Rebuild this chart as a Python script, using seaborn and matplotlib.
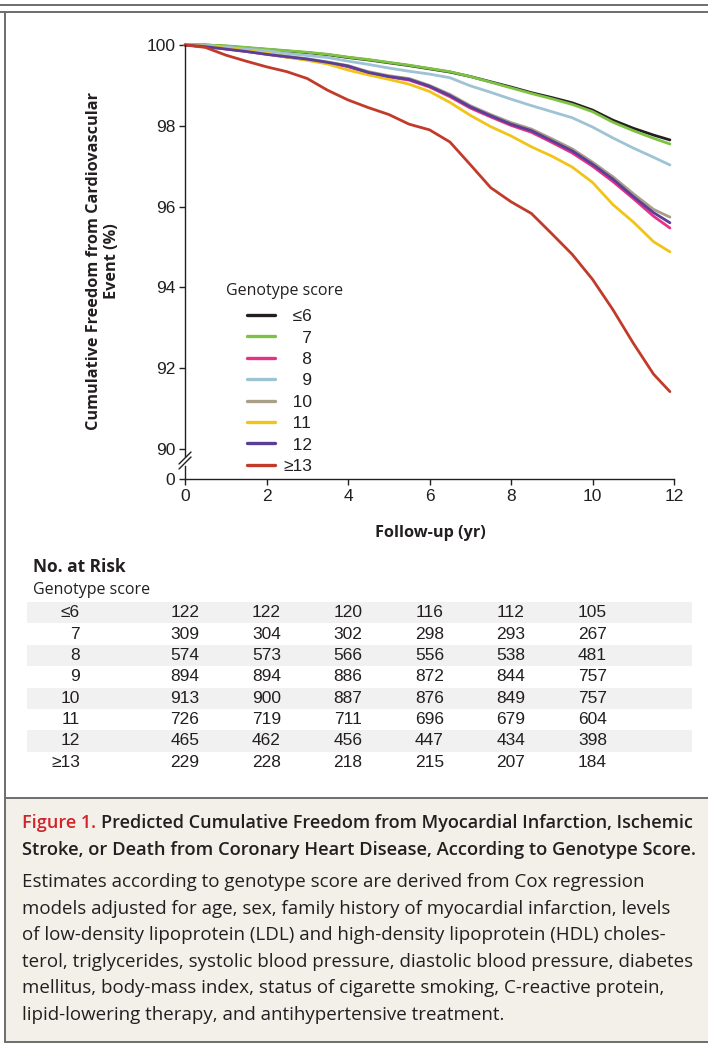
import matplotlib
matplotlib.use("Agg")
import matplotlib.pyplot as plt
from matplotlib.lines import Line2D
from matplotlib.patches import Rectangle
import pandas as pd
import seaborn as sns

# follow-up years at which the curves were read
years = [0, 0.5, 1, 1.5, 2, 2.5, 3, 3.5, 4, 4.5, 5, 5.5, 6, 6.5, 7, 7.5, 8, 8.5,
         9, 9.5, 10, 10.5, 11, 11.5, 11.9]

# cumulative freedom from cardiovascular event (%)
surv_le6 = [100, 100, 99.97, 99.93, 99.89, 99.85, 99.81, 99.76, 99.69, 99.63, 99.56, 99.49, 99.41,
            99.33, 99.22, 99.09, 98.96, 98.82, 98.70, 98.57, 98.39, 98.14, 97.94, 97.77, 97.65]
surv_7 = [100, 100, 99.98, 99.94, 99.90, 99.86, 99.82, 99.77, 99.70, 99.64, 99.57, 99.50, 99.42,
          99.34, 99.22, 99.08, 98.94, 98.80, 98.67, 98.53, 98.35, 98.09, 97.88, 97.69, 97.55]
surv_8 = [100, 99.96, 99.90, 99.84, 99.77, 99.70, 99.64, 99.56, 99.46, 99.31, 99.21, 99.13, 98.96,
          98.72, 98.44, 98.22, 98.01, 97.84, 97.59, 97.33, 97.00, 96.62, 96.20, 95.76, 95.47]
surv_9 = [100, 99.99, 99.95, 99.90, 99.86, 99.79, 99.74, 99.69, 99.60, 99.52, 99.43, 99.35, 99.28,
          99.19, 98.99, 98.83, 98.66, 98.50, 98.35, 98.20, 97.97, 97.70, 97.45, 97.22, 97.03]
surv_10 = [100, 99.97, 99.91, 99.85, 99.78, 99.72, 99.66, 99.58, 99.49, 99.34, 99.24, 99.17, 99.00,
           98.78, 98.50, 98.28, 98.08, 97.92, 97.68, 97.43, 97.10, 96.74, 96.32, 95.93, 95.74]
surv_11 = [100, 99.97, 99.92, 99.86, 99.80, 99.70, 99.62, 99.53, 99.38, 99.26, 99.15, 99.03, 98.85,
           98.58, 98.26, 97.98, 97.75, 97.48, 97.25, 96.98, 96.60, 96.05, 95.62, 95.13, 94.88]
surv_12 = [100, 99.96, 99.90, 99.84, 99.77, 99.71, 99.65, 99.57, 99.48, 99.32, 99.22, 99.15, 98.98,
           98.75, 98.47, 98.25, 98.04, 97.88, 97.63, 97.38, 97.05, 96.68, 96.25, 95.85, 95.60]
surv_ge13 = [100, 99.94, 99.75, 99.60, 99.46, 99.34, 99.17, 98.88, 98.64, 98.45, 98.28, 98.04, 97.90,
             97.60, 97.04, 96.47, 96.12, 95.83, 95.33, 94.82, 94.20, 93.45, 92.62, 91.85, 91.42]

groups = ["≤6", "7", "8", "9", "10", "11", "12", "≥13"]
colors = ["#231f20", "#7dc242", "#e8308a", "#9dc3d5", "#a89f88", "#f0c419", "#5a3f98", "#c23b2a"]

# number at risk table
risk_years = [0, 2, 4, 6, 8, 10]
risk_le6 = [122, 122, 120, 116, 112, 105]
risk_7 = [309, 304, 302, 298, 293, 267]
risk_8 = [574, 573, 566, 556, 538, 481]
risk_9 = [894, 894, 886, 872, 844, 757]
risk_10 = [913, 900, 887, 876, 849, 757]
risk_11 = [726, 719, 711, 696, 679, 604]
risk_12 = [465, 462, 456, 447, 434, 398]
risk_ge13 = [229, 228, 218, 215, 207, 184]

surv_all = [surv_le6, surv_7, surv_8, surv_9, surv_10, surv_11, surv_12, surv_ge13]
risk_all = [risk_le6, risk_7, risk_8, risk_9, risk_10, risk_11, risk_12, risk_ge13]

df = pd.concat([pd.DataFrame({"Year": years, "Surv": s, "Score": g})
                for g, s in zip(groups, surv_all)], ignore_index=True)

sns.set_style("ticks")
plt.rcParams["font.family"] = ["Open Sans", "DejaVu Sans"]
NUMF = ["Liberation Sans", "DejaVu Sans"]
DARK = "#231f20"
FRAME = "#6d6d6d"

W, H = 708, 1044
fig = plt.figure(figsize=(W / 100, H / 100), dpi=100)

def fx(px):
    return px / W

def fy(py):
    return 1 - py / H

# main panel (90-100) and small panel under the axis break (0)
ax = fig.add_axes([fx(185), fy(456), 489 / W, (456 - 45) / H])
ax0 = fig.add_axes([fx(185), fy(479), 489 / W, (479 - 466) / H])
ax0.patch.set_alpha(0)

sns.lineplot(data=df, x="Year", y="Surv", hue="Score", hue_order=groups,
             palette=dict(zip(groups, colors)), estimator=None, sort=False,
             linewidth=2.0, legend=False, ax=ax, clip_on=False)

ax.set_xlim(0, 12)
ax.set_ylim(90 - 7 / 40.4, 100)
ax.set_yticks([90, 92, 94, 96, 98, 100])
ax.set_xticks([])
ax.set_xlabel("")
ax.set_ylabel("")
for s in ["top", "right", "bottom"]:
    ax.spines[s].set_visible(False)

ax0.set_xlim(0, 12)
ax0.set_ylim(0, 1)
ax0.set_yticks([0])
ax0.set_xticks(range(0, 13, 2))
for s in ["top", "right"]:
    ax0.spines[s].set_visible(False)

for a in (ax, ax0):
    a.spines["left"].set_color(DARK)
    a.spines["bottom"].set_color(DARK)
    a.spines["left"].set_linewidth(1.0)
    a.spines["bottom"].set_linewidth(1.0)
    a.tick_params(length=4, width=1.0, color=DARK, pad=3, labelcolor=DARK)
    for lab in a.get_xticklabels() + a.get_yticklabels():
        lab.set_family(NUMF)
        lab.set_fontsize(12.5)

# axis break marks
for off in (0, 5):
    fig.add_artist(Line2D([fx(179), fx(191)], [fy(464 + off), fy(452 + off)],
                          color=DARK, lw=1.0))

fig.text(fx(103), fy(261), "Cumulative Freedom from Cardiovascular\nEvent (%)",
         rotation=90, ha="center", va="center", multialignment="center",
         fontsize=11.7, fontweight="bold", color=DARK, linespacing=1.15)
fig.text(fx(430), fy(533), "Follow-up (yr)", ha="center", va="center",
         fontsize=11.7, fontweight="bold", color=DARK)

# legend
handles = [Line2D([], [], color=c, lw=2.4) for c in colors]
labels = ["\u2007≤6", "\u2007\u20077", "\u2007\u20078", "\u2007\u20079",
          "\u200710", "\u200711", "\u200712", "≥13"]
leg = ax.legend(handles, labels, loc="upper left",
                bbox_to_anchor=(fx(247), fy(309)), bbox_transform=fig.transFigure,
                frameon=False, borderpad=0, borderaxespad=0,
                handlelength=1.6, handletextpad=0.5, labelspacing=0.36,
                prop={"family": NUMF, "size": 12.5})
for t in leg.get_texts():
    t.set_color(DARK)
fig.text(fx(226), fy(291), "Genotype score", ha="left", va="center",
         fontsize=11.5, color=DARK)

# number at risk table
tab = fig.add_axes([fx(27), fy(773), (692 - 27) / W, (773 - 602) / H])
tab.set_xlim(-(185 - 27) / 40.75, (692 - 185) / 40.75)
tab.set_ylim(len(groups) - 0.5, -0.5)
tab.axis("off")
for i, (g, r) in enumerate(zip(groups, risk_all)):
    if i % 2 == 0:
        tab.axhspan(i - 0.5, i + 0.5, color="#f1f1f1", lw=0)
    tab.text((80 - 185) / 40.75, i, g, ha="right", va="center",
             family=NUMF, fontsize=12.5, color=DARK)
    for x, n in zip(risk_years, r):
        tab.text(x, i, str(n), ha="center", va="center",
                 family=NUMF, fontsize=12.5, color=DARK)
fig.text(fx(33), fy(567), "No. at Risk", ha="left", va="center",
         fontsize=12.5, fontweight="bold", color=DARK)
fig.text(fx(33), fy(590), "Genotype score", ha="left", va="center",
         fontsize=11.5, color=DARK)

# frame lines
for yy in (5, 12):
    fig.add_artist(Line2D([0, 1], [fy(yy), fy(yy)], color=FRAME, lw=1.4))
fig.add_artist(Line2D([fx(5), fx(5)], [fy(12), fy(1042)], color=FRAME, lw=1.4))

# caption box
fig.add_artist(Rectangle((fx(5), fy(1042)), 1 - fx(5), (1042 - 798) / H,
                         transform=fig.transFigure, facecolor="#f3f0ea", lw=0))
for yy in (798, 1042):
    fig.add_artist(Line2D([fx(5), 1], [fy(yy), fy(yy)], color=FRAME, lw=1.4))

red_part = fig.text(fx(22), fy(823), "Figure 1. ", ha="left", va="center",
                    fontsize=13, fontweight="semibold", color="#d2232a")
fig.canvas.draw()
bb = red_part.get_window_extent()
fig.text(bb.x1 / W, fy(823),
         "Predicted Cumulative Freedom from Myocardial Infarction, Ischemic",
         ha="left", va="center", fontsize=13, fontweight="semibold", color=DARK)
fig.text(fx(22), fy(850),
         "Stroke, or Death from Coronary Heart Disease, According to Genotype Score.",
         ha="left", va="center", fontsize=13.2, fontweight="semibold", color=DARK)

body = [
    "Estimates according to genotype score are derived from Cox regression",
    "models adjusted for age, sex, family history of myocardial infarction, levels",
    "of low-density lipoprotein (LDL) and high-density lipoprotein (HDL) choles-",
    "terol, triglycerides, systolic blood pressure, diastolic blood pressure, diabetes",
    "mellitus, body-mass index, status of cigarette smoking, C-reactive protein,",
    "lipid-lowering therapy, and antihypertensive treatment.",
]
for k, line in enumerate(body):
    fig.text(fx(22), fy(882 + 26.6 * k), line, ha="left", va="center",
             fontsize=13.5, color=DARK)

fig.savefig("out.png", dpi=100)
